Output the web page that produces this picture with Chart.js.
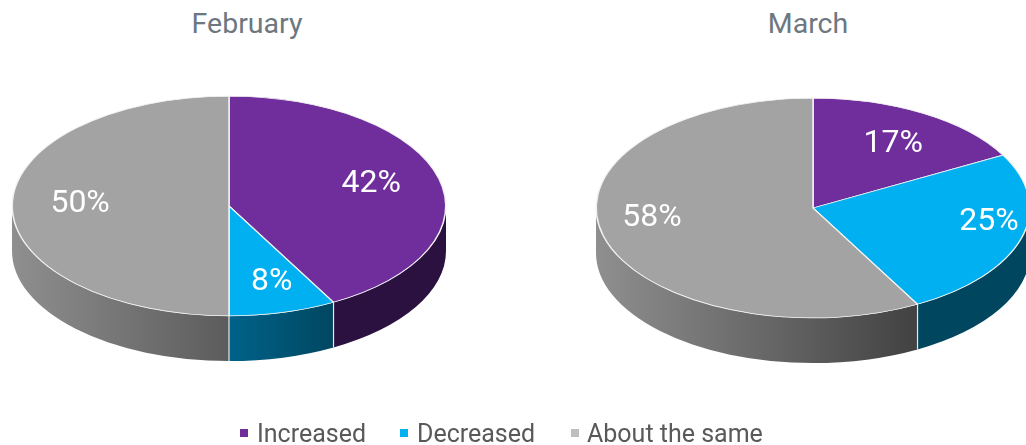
<!DOCTYPE html>
<html>
  <head>
    <title>February and March</title>
    <style>
      html,
      body {
        margin: 0;
        padding: 0;
        width: 1026px;
        height: 445px;
        overflow: hidden;
        background: #fff;
        font-family: Roboto, sans-serif;
      }

      canvas {
        position: absolute;
        top: 0;
      }

      .title {
        position: absolute;
        top: 7px;
        width: 300px;
        text-align: center;
        font-size: 28.5px;
        line-height: 34px;
        color: #6c7780;
      }

      .legend-box {
        position: absolute;
        top: 429px;
        width: 8px;
        height: 8px;
      }

      .legend-text {
        position: absolute;
        top: 420px;
        font-size: 25px;
        line-height: 28px;
        color: #595959;
        white-space: nowrap;
      }
    </style>
  </head>
  <body>
    <div class="title" style="left: 97px" id="title-0"></div>
    <div class="title" style="left: 658px" id="title-1"></div>
    <canvas id="pie-february" style="left: 0"></canvas>
    <canvas id="pie-march" style="left: 584px"></canvas>
    <div id="legend"></div>

    <script src="https://cdn.jsdelivr.net/npm/chart.js"></script>
    <script>
      // Data
      var categories = ["Increased", "Decreased", "About the same"]
      var months = ["February", "March"]
      var februaryValues = [42, 8, 50]
      var marchValues = [17, 25, 58]

      // Colours
      var topColors = ["#702e9c", "#00b0f0", "#a3a3a3"]
      var legendColors = ["#702e9c", "#00b0f0", "#bfbfbf"]

      // Pie shape
      var radius = 217
      var flatRadius = 110
      var depth = 45
      var canvasWidth = 458
      var canvasHeight = 445

      // Walls go darker towards the right, same as the top colours
      function wallFill(ctx, index, cx) {
        var grad
        if (index === 0) return "#2a1140"
        if (index === 1) {
          grad = ctx.createLinearGradient(cx, 0, cx + 108, 0)
          grad.addColorStop(0, "#00628a")
          grad.addColorStop(1, "#00465f")
          return grad
        }
        grad = ctx.createLinearGradient(cx - radius, 0, cx + radius * 0.45, 0)
        grad.addColorStop(0, "#8f8f8f")
        grad.addColorStop(0.66, "#5e5e5e")
        grad.addColorStop(1, "#434343")
        return grad
      }

      var piePlugin = {
        id: "flatPie",

        beforeDatasetsDraw: function (chart) {
          var ctx = chart.ctx
          var opts = chart.options.plugins.flatPie
          var arcs = chart.getDatasetMeta(0).data
          var sx = arcs[0].x
          var sy = opts.centerY

          // side wall, only the front half of the ellipse shows
          arcs.forEach(function (arc, i) {
            var a0 = Math.max(arc.startAngle, 0)
            var a1 = Math.min(arc.endAngle, Math.PI)
            if (a1 <= a0) return
            ctx.beginPath()
            ctx.ellipse(sx, sy, radius, flatRadius, 0, a0, a1)
            ctx.ellipse(sx, sy + depth, radius, flatRadius, 0, a1, a0, true)
            ctx.closePath()
            ctx.fillStyle = wallFill(ctx, i, sx)
            ctx.fill()
          })

          // seams between the walls
          ctx.strokeStyle = "#e8e8e8"
          ctx.lineWidth = 1.2
          arcs.forEach(function (arc) {
            var a = arc.endAngle
            if (a <= 0 || a >= Math.PI) return
            var x = sx + radius * Math.cos(a)
            var y = sy + flatRadius * Math.sin(a)
            ctx.beginPath()
            ctx.moveTo(x, y)
            ctx.lineTo(x, y + depth)
            ctx.stroke()
          })

          // squash the round pie into the top ellipse
          ctx.save()
          ctx.translate(0, sy)
          ctx.scale(1, flatRadius / radius)
          ctx.translate(0, -arcs[0].y)
        },

        afterDatasetsDraw: function (chart) {
          var ctx = chart.ctx
          var opts = chart.options.plugins.flatPie
          var arcs = chart.getDatasetMeta(0).data
          var values = chart.data.datasets[0].data
          ctx.restore()

          ctx.fillStyle = "#fff"
          ctx.font = "32px Roboto, sans-serif"
          ctx.textAlign = "center"
          ctx.textBaseline = "middle"
          arcs.forEach(function (arc, i) {
            var mid = (arc.startAngle + arc.endAngle) / 2
            var x = arc.x + 0.7 * radius * Math.cos(mid) + opts.nudge[i][0]
            var y = opts.centerY + 0.7 * flatRadius * Math.sin(mid) + opts.nudge[i][1]
            ctx.fillText(values[i] + "%", x, y + 1)
          })
        },
      }

      function makePie(canvasId, values, centerY, nudge) {
        var canvas = document.getElementById(canvasId)
        canvas.width = canvasWidth
        canvas.height = canvasHeight
        new Chart(canvas.getContext("2d"), {
          type: "pie",
          data: {
            labels: categories,
            datasets: [
              {
                data: values,
                backgroundColor: topColors,
                borderColor: "#f2f2f2",
                borderWidth: 1.5,
                clip: false,
              },
            ],
          },
          options: {
            responsive: false,
            animation: false,
            layout: { padding: { left: 11.5, right: 11.5, top: 4, bottom: 4 } },
            events: [],
            plugins: {
              legend: { display: false },
              tooltip: { enabled: false },
              flatPie: {
                centerY: centerY,
                nudge: nudge,
              },
            },
          },
          plugins: [piePlugin],
        })
      }

      makePie("pie-february", februaryValues, 206, [[-5, -4], [5, 0], [3, -3]])
      makePie("pie-march", marchValues, 208, [[3, 1], [30, -8], [-14, -10]])

      // Titles and shared legend
      months.forEach(function (month, i) {
        document.getElementById("title-" + i).textContent = month
      })

      var legendBoxX = [240, 400, 571]
      var legendTextX = [257, 417, 587]
      var legend = document.getElementById("legend")
      categories.forEach(function (name, i) {
        var box = document.createElement("div")
        box.className = "legend-box"
        box.style.left = legendBoxX[i] + "px"
        box.style.background = legendColors[i]
        legend.appendChild(box)

        var text = document.createElement("div")
        text.className = "legend-text"
        text.style.left = legendTextX[i] + "px"
        text.textContent = name
        legend.appendChild(text)
      })
    </script>
  </body>
</html>
